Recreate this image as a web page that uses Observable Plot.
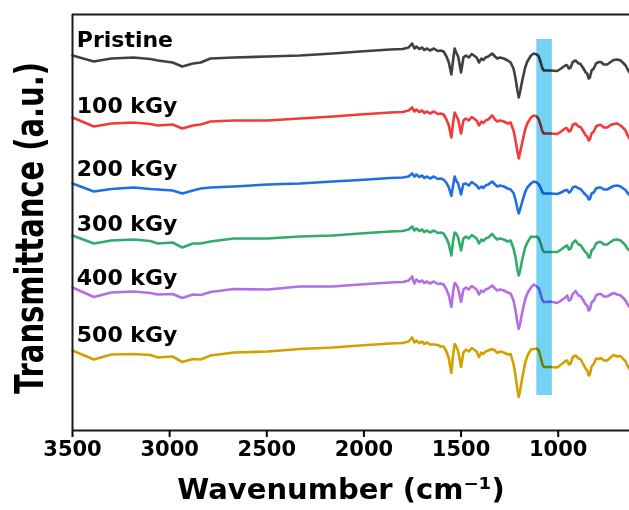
<!DOCTYPE html>
<html>
<head>
<meta charset="utf-8">
<script src="https://cdn.jsdelivr.net/npm/d3@7"></script>
<script src="https://cdn.jsdelivr.net/npm/@observablehq/plot@0.6"></script>
<style>
  html, body { margin: 0; padding: 0; background: #fff; }
  #chart { width: 629px; height: 510px; }
</style>
</head>
<body>
<div id="chart"></div>
<script>
// Wavenumbers (cm^-1), shared sampling grid
const wavenumbers = [3500,3390,3300,3185,3100,3060,2985,2935,2880,2840,2790,2670,2495,2330,2160,2020,1865,1800,1770,1752,1740,1730,1715,1700,1690,1675,1660,1640,1620,1605,1590,1575,1563,1550,1540,1533,1525,1515,1500,1488,1475,1460,1445,1434,1420,1408,1395,1385,1374,1360,1340,1325,1314,1300,1280,1260,1245,1230,1220,1210,1203,1195,1185,1170,1159,1140,1126,1110,1100,1090,1082,1074,1065,1040,1005,985,971,960,954,945,936,925,911,895,885,870,858,851,843,837,828,817,805,791,780,765,748,730,715,696,679,665,653,645,633];

// Transmittance (a.u., stacked) per sample
const pristine = [375,369,372,373,371.5,370,368,364,367,368,372,373,374,375,377,379,381,381.5,383,387,382,384,381.5,383,380.5,382,380,382,379.5,380,379,374,368,356,372,382,378,374,358,373,375,373,376.5,375,373,368,372,370.5,373,374,377,374,372,373,372,370,368,362,352.5,340,333,340,350,363,369,375,377,376,374,368,362.5,360,360,360,359.5,362,364,365.5,365,362,363,368.5,370,367,366.5,362,358,357,352,353,360,362,367,368.5,368.5,366,366,368.5,370.5,371,370,367.5,365,362,358];
const kGy100 = [313,304,307,308,306.5,305,306,302,305,306,309,310,310,312,314,316,318,318.5,320,323,319,321,318.5,320,317.5,319,317,319,316.5,317,316,311,305,293,309,318,315,311,297,310,312,310,313.5,312,310,305,309,307.5,310,311,315,311,309,310,309,307,308,300,290.5,279,272,279,288,301,307,313,315,314,311,305,299.5,297,297,297,296.5,299,301,302.5,302,299,300,305.5,307,304,303.5,299,295,294,290,291,297,299,304,305.5,305.5,303,303,305.5,306.5,307,305,302.5,300,296,292];
const kGy200 = [247,239,241.5,243,241.5,241,240,237,240,242,243,244,246,247,249,250.5,252.5,253,254,257,254,256,253.5,255,252.5,254,252,254,251.5,252,251,247.5,243,234.5,246,254,250,247,236,246.5,247,245,248.5,247,245,242,244,242.5,245,246,249,246,244,245,244,242,241,237.5,231,222,217,222,229,238.5,243,247,249,248,246,242.5,238.5,237,237,237,236.5,238,239.5,240.5,240.5,238,239,243,244,242,241.5,238,235.5,234.5,231,231.5,237,238,242,243,243,241,241,243,244.5,245,244,242,240.5,238,235.5];
const kGy300 = [195,187,190,191,189.5,187,188,183,187,187,189,192,192,194,195,197,199,199.5,201,204,200,202,199.5,201,198.5,200,198,200,197.5,198,197,192,186.5,175,191,198,197,193,180,192,194,192,195.5,194,192,187,191,189.5,192,193,196.5,193,191,192,191,189,190,182,173.5,161,155,161,171,183,188,194,193.5,194,192,187,181.5,178.5,178.5,178.5,178.5,181,183,184.5,185,181,182,187.5,190,186,185.5,181,178,177,173,173,180,182,187,188.5,188.5,186,186,188.5,190.5,191,190,187.5,185,182,180];
const kGy400 = [143,133.5,138,139,137.5,136,136.5,132.5,136,135.5,138.5,141.5,141,144,144,146,148,148.5,150,154,147,151,148.5,150,147.5,149,147,149,146.5,147,146,141,135,123.5,140,147.5,146,142,128.5,141,143,141,144.5,143,141,136,140,138.5,141,142,145,142,140,141,140,138,137,130,120.5,108,101.5,108,118,131,137,143,146,144,142,136,130.5,128.5,128.5,129,127.5,130,132,133.5,135,130,131,136.5,139.5,135,134.5,130,126,125,120,121,128,130,135,136.5,136.5,134,134,136,137.5,136,135,132.5,130,127,123.5];
const kGy500 = [80,71,76,76.5,75.5,73,74,68.5,71.5,71,75,78,79,81.5,83,85,87,87.5,89,93,88,90,87.5,89,86.5,88,86,86,85.5,84,84,79,72,57.5,77,86.5,84,79.5,63.5,78,81,79,82.5,81,79,73.5,78,76.5,79,80,81.5,80,77.5,79,78,76,76.5,66.5,55.5,41,33.5,41,52.5,67.5,74.5,81,81.5,82,80,73,66.5,63.5,63.5,63.5,63,66,68,70,70,66,67,73.5,75,72,71.5,66,61.5,60.5,55,56,64,66.5,72,71.5,72.5,70,70,73,75.5,74,74.5,71.5,69,65.5,61.5];

const seriesNames = ["Pristine", "100 kGy", "200 kGy", "300 kGy", "400 kGy", "500 kGy"];
const seriesValues = [pristine, kGy100, kGy200, kGy300, kGy400, kGy500];
const seriesColors = ["#404040", "#ef3b3b", "#1f6fe3", "#31ab6b", "#b26ee3", "#d4a000"];
const labelLevels = [384, 317.5, 255, 200, 145.5, 89];   // label baselines (a.u.)
const labelWavenumber = 3478;
const xTicks = [3500, 3000, 2500, 2000, 1500, 1000];
const bandRange = [1110, 1030];      // highlighted region (cm^-1)
const bandLevels = [35, 391];        // vertical extent (a.u.)
const xDomain = [3500, 633];
const yDomain = [0, 416];
const xTitle = "Wavenumber (cm⁻¹)";
const yTitle = "Transmittance (a.u.)";

const spectra = seriesNames.flatMap((name, i) =>
  seriesValues[i].map((v, j) => ({series: name, w: wavenumbers[j], v})));
const labels = seriesNames.map((name, i) => ({series: name, w: labelWavenumber, v: labelLevels[i]}));
const band = [{x1: bandRange[0], x2: bandRange[1], y1: bandLevels[0], y2: bandLevels[1]}];

const chart = Plot.plot({
  width: 629,
  height: 510,
  marginLeft: 72,
  marginRight: 0,
  marginTop: 14,
  marginBottom: 80,
  style: {fontFamily: "DejaVu Sans", fontSize: "21px", fontWeight: "bold", color: "#000", background: "#fff"},
  x: {domain: xDomain},
  y: {domain: yDomain, axis: null},
  color: {domain: seriesNames, range: seriesColors},
  marks: [
    Plot.rect(band, {x1: "x1", x2: "x2", y1: "y1", y2: "y2", fill: "#76d2f5"}),
    Plot.line(spectra, {x: "w", y: "v", z: "series", stroke: "series", strokeWidth: 2.6,
      strokeLinejoin: "round", mixBlendMode: "multiply"}),
    Plot.text(labels, {x: "w", y: "v", text: "series", textAnchor: "start", lineAnchor: "bottom",
      fontSize: 22, fontWeight: "bold", fill: "#000"}),
    Plot.ruleY([yDomain[0], yDomain[1]], {stroke: "#1a1a1a", strokeWidth: 2}),
    Plot.ruleX([xDomain[0]], {stroke: "#1a1a1a", strokeWidth: 2}),
    Plot.axisX(xTicks, {anchor: "bottom", tickSize: 7, tickPadding: 4, strokeWidth: 2,
      tickFormat: d => String(d), label: null, fontSize: 21, fontWeight: "bold", fill: "#000"})
  ]
});

const svg = d3.select(chart);
svg.append("text")
  .attr("transform", "translate(341,499)")
  .attr("text-anchor", "middle")
  .style("font-family", "DejaVu Sans")
  .style("font-size", "29px")
  .style("font-weight", "bold")
  .attr("fill", "#000")
  .text(xTitle);
svg.append("text")
  .attr("transform", "translate(43,228) rotate(-90) scale(1,1.33)")
  .attr("text-anchor", "middle")
  .style("font-family", "DejaVu Sans")
  .style("font-size", "29px")
  .style("font-weight", "bold")
  .attr("fill", "#000")
  .text(yTitle);

document.getElementById("chart").appendChild(chart);
</script>
</body>
</html>
